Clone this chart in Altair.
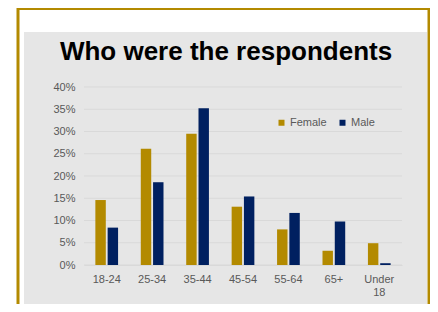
import altair as alt
import pandas as pd

age_groups = ["18-24", "25-34", "35-44", "45-54", "55-64", "65+", "Under 18"]
female = [14.6, 26.1, 29.5, 13.1, 8.0, 3.2, 4.9]
male = [8.4, 18.6, 35.2, 15.4, 11.7, 9.8, 0.4]
genders = ["Female", "Male"]
colors = ["#B38A00", "#002060"]
y_ticks = [0, 5, 10, 15, 20, 25, 30, 35, 40]
chart_title = "Who were the respondents"

rows = []
for i, a in enumerate(age_groups):
    rows.append({"age": a, "gender": "Female", "pct": female[i]})
    rows.append({"age": a, "gender": "Male", "pct": male[i]})
df = pd.DataFrame(rows)
grid_df = pd.DataFrame({"v": y_ticks})

FONT = "Liberation Sans"
LABEL = "#595959"
GRID = "#D9D9D9"
one = alt.Data(values=[{"k": 1}])

y_scale = alt.Scale(domain=[0, 40])
y_axis = alt.Axis(
    title=None, values=y_ticks, labelExpr="datum.value + '%'", grid=False,
    domain=False, ticks=False, labelFont=FONT, labelFontSize=11,
    labelColor=LABEL, labelPadding=9, zindex=1,
)

frame = alt.Chart(one).mark_rect(fill="white", stroke="#B38A00", strokeWidth=3).encode(
    x=alt.value(-66), x2=alt.value(345), y=alt.value(-78.5), y2=alt.value(260)
)
panel = alt.Chart(one).mark_rect(fill="#E6E6E6").encode(
    x=alt.value(-60), x2=alt.value(343), y=alt.value(-55), y2=alt.value(260)
)
title = alt.Chart(one).mark_text(
    text=chart_title, font=FONT, fontSize=26, fontWeight="bold", color="black",
    align="center", baseline="alphabetic"
).encode(x=alt.value(142), y=alt.value(-27))

grid = alt.Chart(grid_df).mark_rule(color=GRID, strokeWidth=1).encode(
    y=alt.Y("v:Q", scale=y_scale, axis=y_axis)
)

bars = alt.Chart(df).mark_bar().encode(
    x=alt.X(
        "age:N", sort=age_groups,
        scale=alt.Scale(paddingInner=0.5, paddingOuter=0.25),
        axis=alt.Axis(
            title=None, labelAngle=0, ticks=False, domainColor=GRID,
            labelFont=FONT, labelFontSize=11, labelColor=LABEL, labelPadding=8,
            labelLineHeight=13, zindex=1,
            labelExpr="datum.label == 'Under 18' ? ['Under', '18'] : datum.label",
        ),
    ),
    xOffset=alt.XOffset("gender:N", sort=genders, scale=alt.Scale(paddingInner=0.15)),
    y=alt.Y("pct:Q", scale=y_scale, axis=y_axis),
    color=alt.Color(
        "gender:N", scale=alt.Scale(domain=genders, range=colors),
        legend=alt.Legend(
            title=None, orient="none", legendX=192, legendY=30, direction="horizontal",
            symbolType="square", symbolSize=36, symbolStrokeWidth=0,
            labelFont=FONT, labelFontSize=11, labelColor=LABEL,
            columnPadding=10, labelOffset=3, zindex=1,
        ),
    ),
)

chart = alt.layer(frame, panel, title, grid, bars).properties(
    width=318, height=178,
    autosize=alt.AutoSizeParams(type="none"),
    padding={"left": 76, "top": 79, "right": 28, "bottom": 39},
    background="white",
).configure_view(stroke=None)

chart.save("out.html", embed_options={"renderer": "svg", "actions": False})
